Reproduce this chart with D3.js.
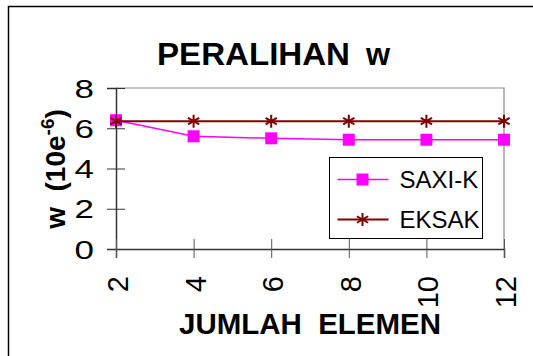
<!DOCTYPE html>
<html>
<head>
<meta charset="utf-8">
<script src="https://cdn.jsdelivr.net/npm/d3@7"></script>
<style>
  body { margin: 0; background: #fff; }
  svg { display: block; font-family: "Liberation Sans", Arial, sans-serif; }
</style>
</head>
<body>
<div id="chart"></div>
<script>
const elements = [2, 4, 6, 8, 10, 12];
const saxiK = [6.4, 5.6, 5.5, 5.43, 5.43, 5.43];
const eksak = [6.35, 6.35, 6.35, 6.35, 6.35, 6.35];
const yTicks = [0, 2, 4, 6, 8];

function drawChart(selector = "#chart") {
    const width = 533;
    const height = 356;
    const margin = { top: 88, right: 29, bottom: 107, left: 116 };

    const svg = d3.select(selector)
        .html("")
        .append("svg")
        .attr("width", width)
        .attr("height", height);

    // outer frame (only top and left edges show)
    svg.append("rect")
        .attr("x", 8.5)
        .attr("y", 6.5)
        .attr("width", width + 20)
        .attr("height", height + 20)
        .attr("fill", "none")
        .attr("stroke", "#000")
        .attr("stroke-width", 1.5);

    const x = d3.scaleLinear()
        .domain([2, 12])
        .range([margin.left, width - margin.right]);

    const y = d3.scaleLinear()
        .domain([0, 8])
        .range([height - margin.bottom, margin.top]);

    // plot border (top/right gray)
    svg.append("path")
        .attr("d", `M${x(2)},${y(8)}H${x(12)}V${y(0)}`)
        .attr("fill", "none")
        .attr("stroke", "#888")
        .attr("stroke-width", 1.2);

    // y axis with crossing ticks
    const yAxis = svg.append("g")
        .attr("transform", `translate(${x(2)},0)`)
        .call(d3.axisLeft(y).tickValues(yTicks).tickSize(9).tickFormat(d3.format("d")));
    yAxis.select(".domain").attr("stroke", "#333").attr("stroke-width", 1.5);
    yAxis.selectAll(".tick line").attr("x2", 9).attr("x1", -9).attr("stroke", "#333");
    yAxis.selectAll(".tick text")
        .attr("x", 0)
        .attr("dy", "0.36em")
        .attr("transform", "translate(-22,0) scale(1.4,1)")
        .style("font-size", "25px")
        .attr("fill", "#000");

    // x axis with crossing ticks
    const xAxis = svg.append("g")
        .attr("transform", `translate(0,${y(0)})`)
        .call(d3.axisBottom(x).tickValues(elements).tickSize(9).tickFormat(d3.format("d")));
    xAxis.select(".domain").attr("stroke", "#333").attr("stroke-width", 1.5);
    xAxis.selectAll(".tick line").attr("y1", -10).attr("y2", 9).attr("stroke", "#555");
    xAxis.selectAll(".tick text")
        .attr("transform", "rotate(-90)")
        .attr("x", -27)
        .attr("y", 1)
        .attr("dy", "0.36em")
        .attr("text-anchor", "end")
        .style("font-size", "29px")
        .attr("fill", "#000");

    // title
    svg.append("text")
        .attr("x", 157)
        .attr("y", 65)
        .attr("textLength", 193)
        .attr("lengthAdjust", "spacingAndGlyphs")
        .style("font-size", "31px")
        .style("font-weight", "bold")
        .text("PERALIHAN");
    svg.append("text")
        .attr("x", 366)
        .attr("y", 65)
        .style("font-size", "31px")
        .style("font-weight", "bold")
        .text("w");

    // x title
    svg.append("text")
        .attr("x", 179)
        .attr("y", 334)
        .attr("textLength", 262)
        .attr("lengthAdjust", "spacingAndGlyphs")
        .style("font-size", "30px")
        .style("font-weight", "bold")
        .style("white-space", "pre")
        .text("JUMLAH  ELEMEN");

    // y title
    const yTitle = svg.append("text")
        .attr("transform", "translate(65,169) rotate(-90)")
        .attr("text-anchor", "middle")
        .style("font-size", "28px")
        .style("font-weight", "bold")
        .style("white-space", "pre");
    yTitle.append("tspan").text("w  (10e");
    yTitle.append("tspan").attr("dy", -11).style("font-size", "19px").text("-6");
    yTitle.append("tspan").attr("dy", 11).text(")");

    const line = d3.line()
        .x((d, i) => x(elements[i]))
        .y(d => y(d));

    const star = d3.symbol().type({
        draw(ctx, size) {
            const r = Math.sqrt(size) / 2;
            const a = r * 0.866;
            ctx.moveTo(0, -r); ctx.lineTo(0, r);
            ctx.moveTo(-a, -r / 2); ctx.lineTo(a, r / 2);
            ctx.moveTo(-a, r / 2); ctx.lineTo(a, -r / 2);
        }
    }).size(169);

    svg.append("path")
        .datum(saxiK)
        .attr("d", line)
        .attr("fill", "none")
        .attr("stroke", "#ff00ff")
        .attr("stroke-width", 1.5);

    svg.selectAll(".sq")
        .data(saxiK)
        .join("rect")
        .attr("class", "sq")
        .attr("x", (d, i) => x(elements[i]) - 6)
        .attr("y", d => y(d) - 6)
        .attr("width", 12)
        .attr("height", 12)
        .attr("fill", "#ff00ff");

    svg.append("path")
        .datum(eksak)
        .attr("d", line)
        .attr("fill", "none")
        .attr("stroke", "#800000")
        .attr("stroke-width", 2);

    svg.selectAll(".star")
        .data(eksak)
        .join("path")
        .attr("class", "star")
        .attr("transform", (d, i) => `translate(${x(elements[i])},${y(d)})`)
        .attr("d", star)
        .attr("fill", "none")
        .attr("stroke", "#800000")
        .attr("stroke-width", 2);

    // legend
    const legend = svg.append("g")
        .attr("transform", "translate(329.5,157.5)");

    legend.append("rect")
        .attr("width", 153)
        .attr("height", 81)
        .attr("fill", "#fff")
        .attr("stroke", "#000")
        .attr("stroke-width", 1);

    legend.append("line")
        .attr("x1", 8).attr("x2", 59)
        .attr("y1", 22).attr("y2", 22)
        .attr("stroke", "#ff00ff")
        .attr("stroke-width", 1.5);
    legend.append("rect")
        .attr("x", 27).attr("y", 16)
        .attr("width", 12).attr("height", 12)
        .attr("fill", "#ff00ff");
    legend.append("text")
        .attr("x", 70)
        .attr("y", 30)
        .style("font-size", "24px")
        .text("SAXI-K");

    legend.append("line")
        .attr("x1", 8).attr("x2", 59)
        .attr("y1", 62).attr("y2", 62)
        .attr("stroke", "#800000")
        .attr("stroke-width", 2);
    legend.append("path")
        .attr("transform", "translate(33,62)")
        .attr("d", star)
        .attr("fill", "none")
        .attr("stroke", "#800000")
        .attr("stroke-width", 2);
    legend.append("text")
        .attr("x", 70)
        .attr("y", 70)
        .style("font-size", "24px")
        .text("EKSAK");
}

drawChart();
</script>
</body>
</html>
